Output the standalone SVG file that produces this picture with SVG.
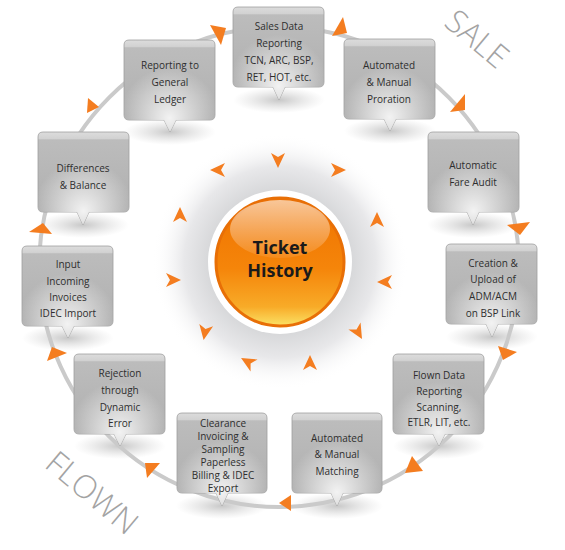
<svg xmlns="http://www.w3.org/2000/svg" xmlns:xlink="http://www.w3.org/1999/xlink" width="565" height="550" viewBox="0 0 565 550">
<defs>
<linearGradient id="boxG" x1="0" y1="0" x2="0" y2="1">
<stop offset="0" stop-color="#dcdcdc"/>
<stop offset="0.07" stop-color="#d2d2d2"/>
<stop offset="0.085" stop-color="#bcbcbc"/>
<stop offset="0.6" stop-color="#b4b4b4"/>
<stop offset="1" stop-color="#a8a8a8"/>
</linearGradient>
<radialGradient id="glowG" cx="0.5" cy="0.85" r="0.55">
<stop offset="0" stop-color="#ffffff" stop-opacity="0.85"/>
<stop offset="1" stop-color="#ffffff" stop-opacity="0"/>
</radialGradient>
<radialGradient id="shadowG" cx="0.5" cy="0.5" r="0.5">
<stop offset="0" stop-color="#9a9a9a" stop-opacity="0.55"/>
<stop offset="1" stop-color="#bbbbbb" stop-opacity="0"/>
</radialGradient>
<radialGradient id="haloG" cx="0.5" cy="0.5" r="0.5">
<stop offset="0.5" stop-color="#d2d3d5"/>
<stop offset="0.75" stop-color="#e8e8ea"/>
<stop offset="1" stop-color="#ffffff" stop-opacity="0"/>
</radialGradient>
<linearGradient id="ballG" x1="0" y1="0" x2="0" y2="1">
<stop offset="0" stop-color="#ef7200"/>
<stop offset="0.55" stop-color="#f5850a"/>
<stop offset="0.85" stop-color="#f8ab28"/>
<stop offset="1" stop-color="#fbe266"/>
</linearGradient>
<linearGradient id="hiG" x1="0" y1="0" x2="0" y2="1">
<stop offset="0" stop-color="#ffffff" stop-opacity="0.6"/>
<stop offset="1" stop-color="#ffffff" stop-opacity="0.08"/>
</linearGradient>
<path id="chev" d="M-7,-7 L8,0 L-7,7 L-3,0 Z" fill="#f47d20"/>
<style>
.box{fill:url(#boxG);stroke:#a0a0a0;stroke-width:0.8}
.glow{fill:url(#glowG)}
.sh{fill:url(#shadowG)}
.t{font-family:"Open Sans","Liberation Sans",sans-serif;font-size:10px;fill:#2e2e2e;text-anchor:middle}
.tri{fill:#f47d20}
.big{font-family:"Open Sans","Liberation Sans",sans-serif;font-weight:300;font-size:32px;fill:#a3a3a3;text-anchor:middle}
</style>
</defs>
<rect width="565" height="550" fill="#ffffff"/>

<!-- shadows -->
<g id="shadows">
<ellipse class="sh" cx="279" cy="100" rx="46" ry="13"/>
<ellipse class="sh" cx="390" cy="131" rx="46" ry="13"/>
<ellipse class="sh" cx="170" cy="132" rx="46" ry="13"/>
<ellipse class="sh" cx="83" cy="225" rx="46" ry="13"/>
<ellipse class="sh" cx="68" cy="338" rx="46" ry="13"/>
<ellipse class="sh" cx="473" cy="225" rx="46" ry="13"/>
<ellipse class="sh" cx="492" cy="337" rx="46" ry="13"/>
<ellipse class="sh" cx="120" cy="446" rx="46" ry="13"/>
<ellipse class="sh" cx="222" cy="506" rx="46" ry="13"/>
<ellipse class="sh" cx="337" cy="506" rx="46" ry="13"/>
<ellipse class="sh" cx="439" cy="446" rx="46" ry="13"/>
</g>

<!-- connectors: ring and arrowheads -->
<g id="connectors">
<circle cx="279" cy="267" r="240" fill="none" stroke="#cacaca" stroke-width="4"/>
<polygon class="tri" points="210,25 226,28 221,45"/>
<polygon class="tri" points="343,17 332,36 347,33"/>
<polygon class="tri" points="465,94 450,112 465,110"/>
<polygon class="tri" points="507,225 530,222 520,235"/>
<polygon class="tri" points="498,346 517,352 503,360"/>
<polygon class="tri" points="412,456 405,473 423,471"/>
<polygon class="tri" points="279,503 291,495 291,511"/>
<polygon class="tri" points="145,463 160,463 147,478"/>
<polygon class="tri" points="52,347 67,353 47,361"/>
<polygon class="tri" points="43,223 29,232 52,234"/>
<polygon class="tri" points="88,98 99,107 87,113"/>
</g>

<!-- central node -->
<g id="ticket-history">
<circle cx="280" cy="262" r="128" fill="url(#haloG)"/>
<circle cx="280" cy="262" r="72" fill="#ffffff"/>
<circle cx="280" cy="262" r="64" fill="url(#ballG)" stroke="#e86f06" stroke-width="3"/>
<ellipse cx="280" cy="229" rx="50" ry="29" fill="url(#hiG)"/>
<text x="280" y="254" font-family="'Open Sans','Liberation Sans',sans-serif" font-weight="bold" font-size="18" fill="#1a1a1a" text-anchor="middle">Ticket</text>
<text x="280" y="277" font-family="'Open Sans','Liberation Sans',sans-serif" font-weight="bold" font-size="18" fill="#1a1a1a" text-anchor="middle">History</text>
</g>

<g id="chevrons">
<use xlink:href="#chev" transform="translate(278,160) rotate(90)"/>
<use xlink:href="#chev" transform="translate(338,170) rotate(0)"/>
<use xlink:href="#chev" transform="translate(377,220) rotate(-90)"/>
<use xlink:href="#chev" transform="translate(385,282) rotate(180)"/>
<use xlink:href="#chev" transform="translate(358,332) rotate(60)"/>
<use xlink:href="#chev" transform="translate(310,363) rotate(-90)"/>
<use xlink:href="#chev" transform="translate(248,362) rotate(-150)"/>
<use xlink:href="#chev" transform="translate(205,332) rotate(100)"/>
<use xlink:href="#chev" transform="translate(173,280) rotate(0)"/>
<use xlink:href="#chev" transform="translate(180,215) rotate(-90)"/>
<use xlink:href="#chev" transform="translate(218,170) rotate(180)"/>
</g>

<!-- box nodes -->
<g id="sales-data">
<path class="box" d="M238,7 H319 Q324,7 324,12 V82 Q324,87 319,87 H285 L279,100 L273,87 H238 Q233,87 233,82 V12 Q233,7 238,7 Z"/>
<path class="glow" d="M238,7 H319 Q324,7 324,12 V82 Q324,87 319,87 H285 L279,100 L273,87 H238 Q233,87 233,82 V12 Q233,7 238,7 Z"/>
<text class="t" x="279" y="30">Sales Data</text>
<text class="t" x="279" y="47">Reporting</text>
<text class="t" x="279" y="64">TCN, ARC, BSP,</text>
<text class="t" x="279" y="81">RET, HOT, etc.</text>
</g>

<g id="proration">
<path class="box" d="M349,39 H430 Q435,39 435,44 V114 Q435,119 430,119 H396 L390,131 L384,119 H349 Q344,119 344,114 V44 Q344,39 349,39 Z"/>
<path class="glow" d="M349,39 H430 Q435,39 435,44 V114 Q435,119 430,119 H396 L390,131 L384,119 H349 Q344,119 344,114 V44 Q344,39 349,39 Z"/>
<text class="t" x="389" y="69">Automated</text>
<text class="t" x="389" y="86">&amp; Manual</text>
<text class="t" x="389" y="103">Proration</text>
</g>

<g id="general-ledger">
<path class="box" d="M129,40 H210 Q215,40 215,45 V115 Q215,120 210,120 H176 L170,132 L164,120 H129 Q124,120 124,115 V45 Q124,40 129,40 Z"/>
<path class="glow" d="M129,40 H210 Q215,40 215,45 V115 Q215,120 210,120 H176 L170,132 L164,120 H129 Q124,120 124,115 V45 Q124,40 129,40 Z"/>
<text class="t" x="170" y="69">Reporting to</text>
<text class="t" x="170" y="86">General</text>
<text class="t" x="170" y="103">Ledger</text>
</g>

<g id="differences">
<path class="box" d="M43,132 H124 Q129,132 129,137 V207 Q129,212 124,212 H89 L83,225 L77,212 H43 Q38,212 38,207 V137 Q38,132 43,132 Z"/>
<path class="glow" d="M43,132 H124 Q129,132 129,137 V207 Q129,212 124,212 H89 L83,225 L77,212 H43 Q38,212 38,207 V137 Q38,132 43,132 Z"/>
<text class="t" x="83" y="172">Differences</text>
<text class="t" x="83" y="189">&amp; Balance</text>
</g>

<g id="input-invoices">
<path class="box" d="M27,246 H108 Q113,246 113,251 V321 Q113,326 108,326 H74 L68,338 L62,326 H27 Q22,326 22,321 V251 Q22,246 27,246 Z"/>
<path class="glow" d="M27,246 H108 Q113,246 113,251 V321 Q113,326 108,326 H74 L68,338 L62,326 H27 Q22,326 22,321 V251 Q22,246 27,246 Z"/>
<text class="t" x="68" y="268">Input</text>
<text class="t" x="68" y="285">Incoming</text>
<text class="t" x="68" y="301">Invoices</text>
<text class="t" x="68" y="317">IDEC Import</text>
</g>

<g id="fare-audit">
<path class="box" d="M433,132 H514 Q519,132 519,137 V207 Q519,212 514,212 H479 L473,225 L467,212 H433 Q428,212 428,207 V137 Q428,132 433,132 Z"/>
<path class="glow" d="M433,132 H514 Q519,132 519,137 V207 Q519,212 514,212 H479 L473,225 L467,212 H433 Q428,212 428,207 V137 Q428,132 433,132 Z"/>
<text class="t" x="473" y="169">Automatic</text>
<text class="t" x="473" y="186">Fare Audit</text>
</g>

<g id="adm-acm">
<path class="box" d="M451,244 H532 Q537,244 537,249 V319 Q537,324 532,324 H498 L492,337 L486,324 H451 Q446,324 446,319 V249 Q446,244 451,244 Z"/>
<path class="glow" d="M451,244 H532 Q537,244 537,249 V319 Q537,324 532,324 H498 L492,337 L486,324 H451 Q446,324 446,319 V249 Q446,244 451,244 Z"/>
<text class="t" x="493" y="267">Creation &amp;</text>
<text class="t" x="493" y="283">Upload of</text>
<text class="t" x="493" y="300">ADM/ACM</text>
<text class="t" x="493" y="317">on BSP Link</text>
</g>

<g id="flown-data">
<path class="box" d="M398,354 H479 Q484,354 484,359 V429 Q484,434 479,434 H445 L439,446 L433,434 H398 Q393,434 393,429 V359 Q393,354 398,354 Z"/>
<path class="glow" d="M398,354 H479 Q484,354 484,359 V429 Q484,434 479,434 H445 L439,446 L433,434 H398 Q393,434 393,429 V359 Q393,354 398,354 Z"/>
<text class="t" x="439" y="379">Flown Data</text>
<text class="t" x="439" y="395">Reporting</text>
<text class="t" x="439" y="411">Scanning,</text>
<text class="t" x="439" y="426">ETLR, LIT, etc.</text>
</g>

<g id="matching">
<path class="box" d="M297,413 H377 Q382,413 382,418 V488 Q382,493 377,493 H343 L337,506 L331,493 H297 Q292,493 292,488 V418 Q292,413 297,413 Z"/>
<path class="glow" d="M297,413 H377 Q382,413 382,418 V488 Q382,493 377,493 H343 L337,506 L331,493 H297 Q292,493 292,488 V418 Q292,413 297,413 Z"/>
<text class="t" x="337" y="442">Automated</text>
<text class="t" x="337" y="458">&amp; Manual</text>
<text class="t" x="337" y="475">Matching</text>
</g>

<g id="clearance">
<path class="box" d="M182,413 H262 Q267,413 267,418 V488 Q267,493 262,493 H228 L222,506 L216,493 H182 Q177,493 177,488 V418 Q177,413 182,413 Z"/>
<path class="glow" d="M182,413 H262 Q267,413 267,418 V488 Q267,493 262,493 H228 L222,506 L216,493 H182 Q177,493 177,488 V418 Q177,413 182,413 Z"/>
<text class="t" x="223" y="427">Clearance</text>
<text class="t" x="223" y="440">Invoicing &amp;</text>
<text class="t" x="223" y="453">Sampling</text>
<text class="t" x="223" y="466">Paperless</text>
<text class="t" x="223" y="479">Billing &amp; IDEC</text>
<text class="t" x="223" y="492">Export</text>
</g>

<g id="rejection">
<path class="box" d="M79,354 H160 Q165,354 165,359 V429 Q165,434 160,434 H126 L120,446 L114,434 H79 Q74,434 74,429 V359 Q74,354 79,354 Z"/>
<path class="glow" d="M79,354 H160 Q165,354 165,359 V429 Q165,434 160,434 H126 L120,446 L114,434 H79 Q74,434 74,429 V359 Q74,354 79,354 Z"/>
<text class="t" x="120" y="377">Rejection</text>
<text class="t" x="120" y="394">through</text>
<text class="t" x="120" y="411">Dynamic</text>
<text class="t" x="120" y="427">Error</text>
</g>

<g id="labels">
<text class="big" transform="translate(477,39) rotate(40)" x="0" y="11">SALE</text>
<text class="big" transform="translate(92,493) rotate(40)" x="0" y="11">FLOWN</text>
</g>
</svg>
